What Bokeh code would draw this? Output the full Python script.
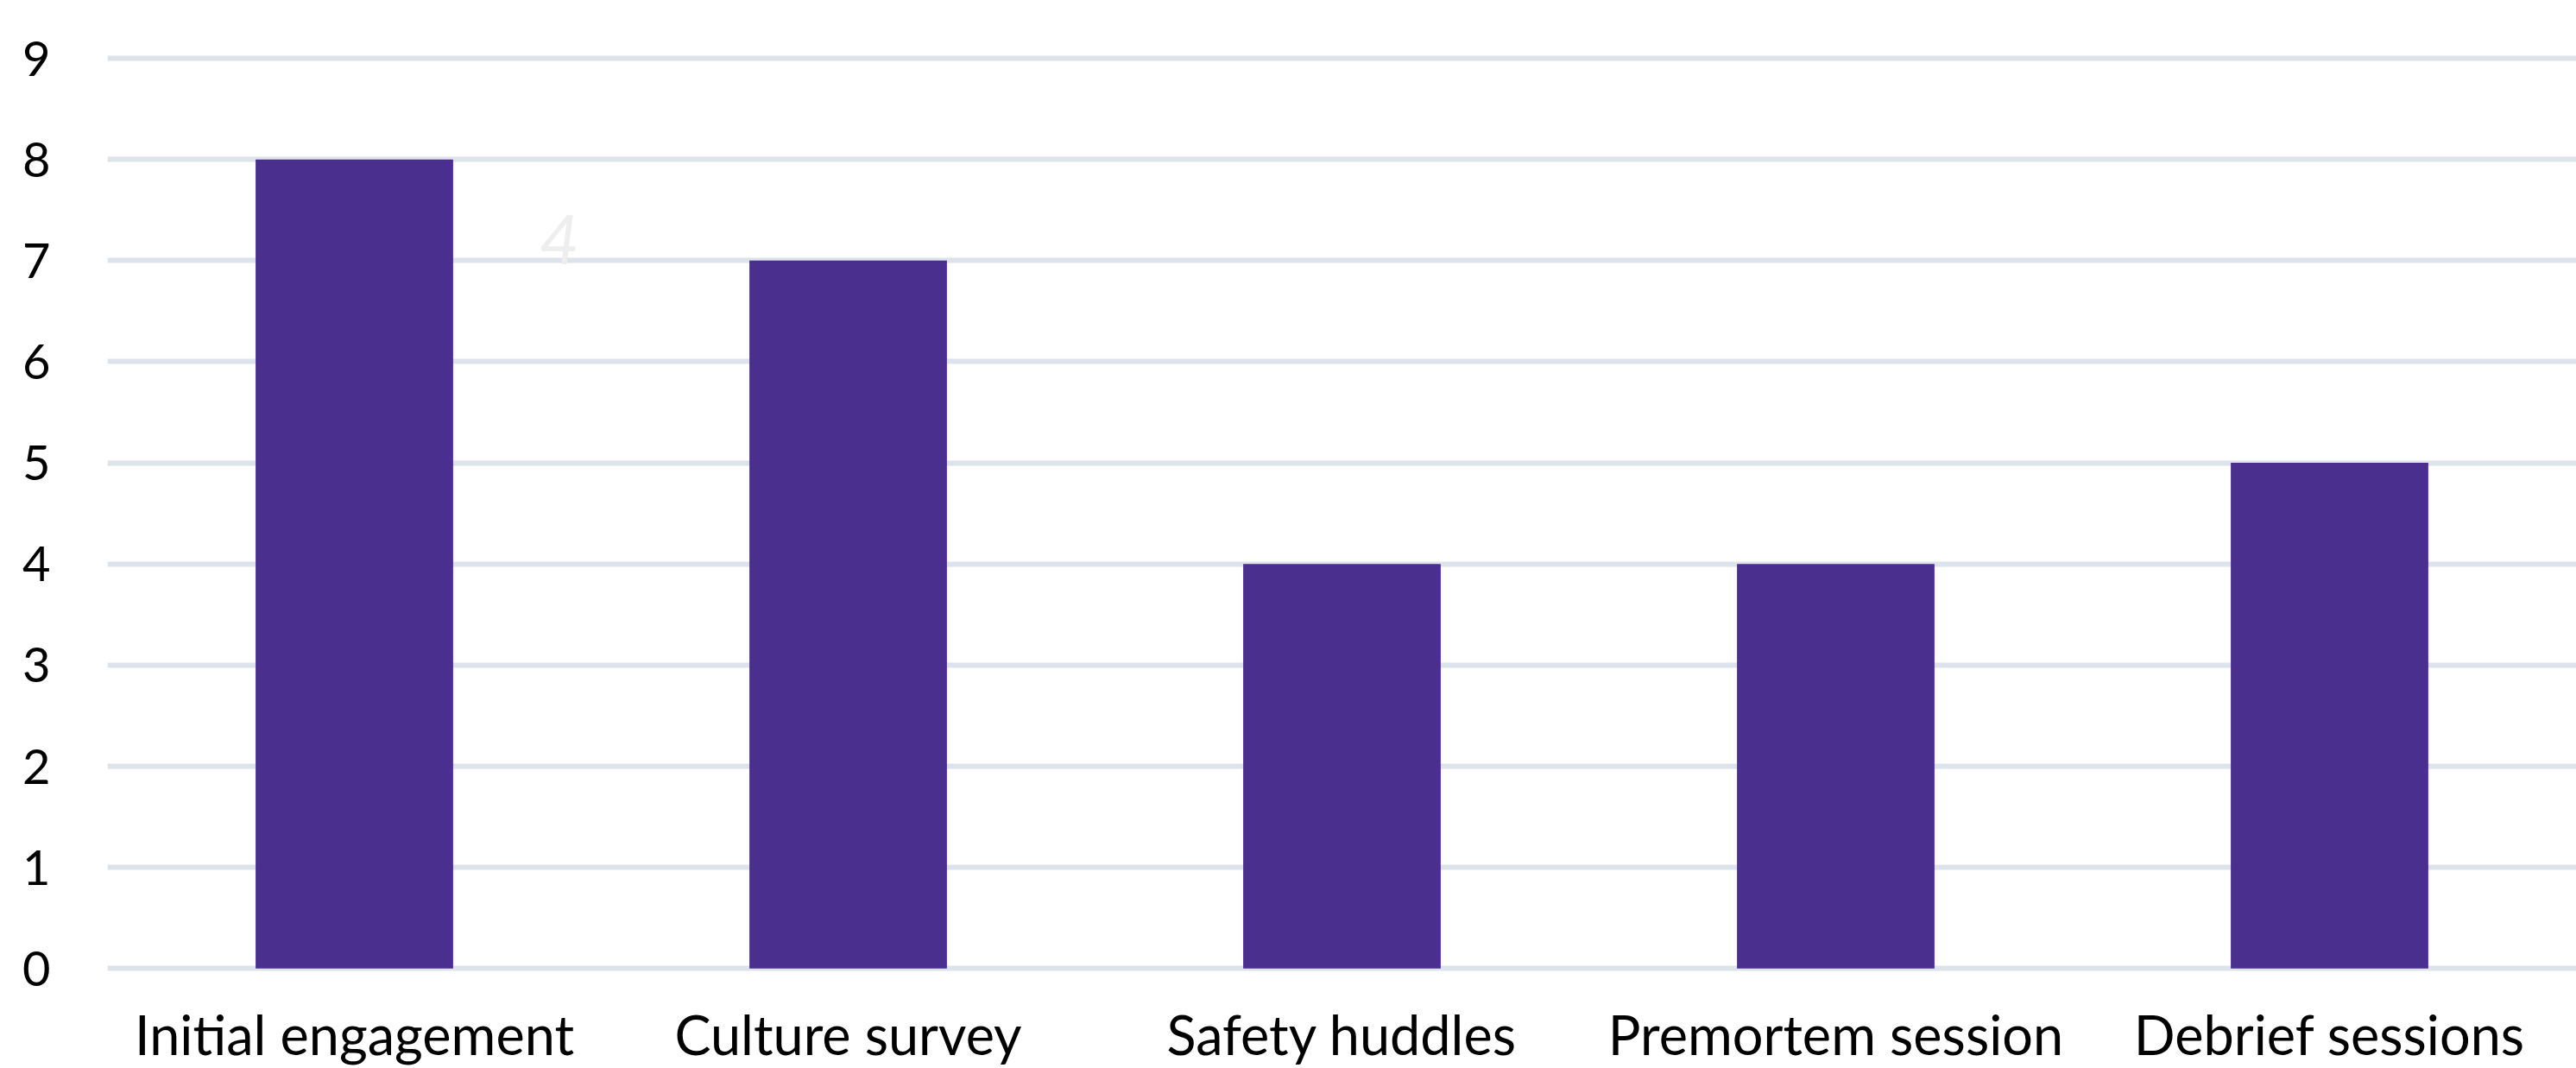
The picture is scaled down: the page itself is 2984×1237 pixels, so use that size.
from bokeh.plotting import figure
from bokeh.models import FactorRange, Range1d, FixedTicker, Label
from bokeh.embed import file_html
from bokeh.resources import INLINE

categories = ["Initial engagement", "Culture survey", "Safety huddles", "Premortem session", "Debrief sessions"]
values = [8, 7, 4, 4, 5]
y_ticks = [0, 1, 2, 3, 4, 5, 6, 7, 8, 9]

BAR = "#4A2F8F"
FONT = "Lato"

p = figure(
    width=2984, height=1237,
    x_range=FactorRange(*categories, range_padding=0),
    y_range=Range1d(-0.1, 9.572),
    output_backend="svg", toolbar_location=None,
    min_border_left=124, min_border_right=0, min_border_top=0, min_border_bottom=0,
)
p.vbar(x=categories, top=values, width=0.4, bottom=0, fill_color=BAR, line_color=None)

p.outline_line_color = None
p.background_fill_color = "white"
p.border_fill_color = "white"

p.xgrid.grid_line_color = None
p.ygrid.grid_line_color = "#DCE3EA"
p.ygrid.grid_line_width = 6
p.yaxis.ticker = FixedTicker(ticks=y_ticks)

for ax in (p.xaxis[0], p.yaxis[0]):
    ax.axis_line_color = None
    ax.major_tick_line_color = None
    ax.minor_tick_line_color = None
    ax.major_label_text_font = FONT
    ax.major_label_text_color = "black"

p.yaxis.major_label_text_font_size = "56px"
p.yaxis.major_label_standoff = 60
p.xaxis.major_label_text_font_size = "63px"
p.xaxis.major_label_standoff = 20

ghost = Label(x=0.915, y=7.21, text="4", text_font=FONT, text_font_style="italic",
              text_font_size="80px", text_color="#EEEEEE", text_align="center",
              text_baseline="middle")
p.add_layout(ghost)

open("out.html", "w").write(file_html(p, INLINE))
